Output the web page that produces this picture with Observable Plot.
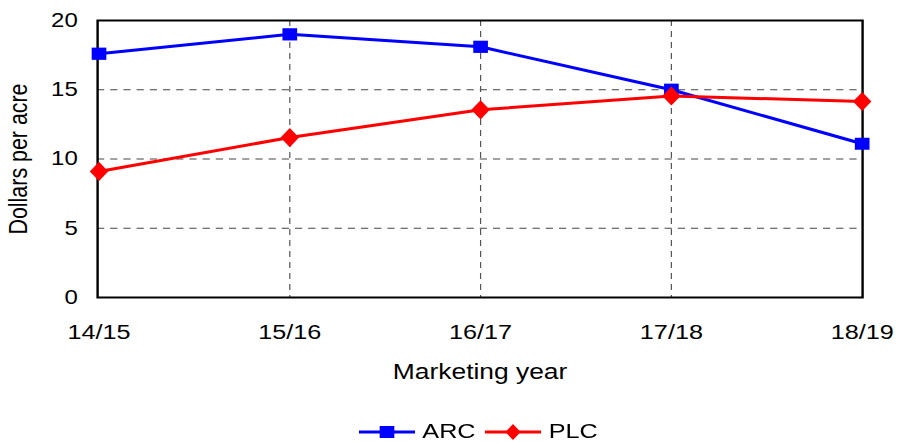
<!DOCTYPE html>
<html>
<head>
<meta charset="utf-8">
<script src="https://cdn.jsdelivr.net/npm/d3@7"></script>
<script src="https://cdn.jsdelivr.net/npm/@observablehq/plot@0.6"></script>
<style>
  html, body { margin: 0; padding: 0; background: #fff; }
  body { width: 899px; height: 442px; overflow: hidden; font-family: "Liberation Sans", Arial, sans-serif; }
  /* the whole figure is drawn slightly condensed, then widened to 899px */
  #wrap { width: 749.17px; transform: scaleX(1.2); transform-origin: 0 0; }
  #chart svg { display: block; }
  #legend { display: flex; justify-content: center; align-items: center; height: 42px; font-size: 21px; color: #000; padding-left: 48px; box-sizing: border-box; }
  #legend .item { display: flex; align-items: center; }
  #legend .item + .item { margin-left: 8px; }
  #legend svg { margin-right: 6px; }
</style>
</head>
<body>
<div id="wrap">
  <div id="chart"></div>
  <div id="legend"></div>
</div>
<script>
// Marketing years and per-acre payments by program
const years = ["14/15", "15/16", "16/17", "17/18", "18/19"];
const arc = [17.6, 19.0, 18.1, 15.0, 11.1];
const plc = [9.1, 11.55, 13.55, 14.55, 14.15];
const yTicks = [0, 5, 10, 15, 20];

// a rhombus a little taller than it is wide
const tallDiamond = {
  draw(context, size) {
    const r = Math.sqrt(size / Math.PI);
    const w = r * 0.96, h = r * 1.2;
    context.moveTo(0, -h);
    context.lineTo(w, 0);
    context.lineTo(0, h);
    context.lineTo(-w, 0);
    context.closePath();
  }
};

const series = [
  {name: "ARC", values: arc, color: "#0000ff", symbol: "square", r: 6.9},
  {name: "PLC", values: plc, color: "#ff0000", symbol: tallDiamond, r: 8}
];

const rows = series.flatMap(s => years.map((y, i) => ({year: y, value: s.values[i], name: s.name})));
const font = "Liberation Sans, Arial, sans-serif";

const marks = [
  // dashed gridlines
  Plot.ruleY([5, 10, 15], {stroke: "#444", strokeDasharray: "6,5", strokeWidth: 1}),
  Plot.ruleX(years.slice(1, -1), {stroke: "#555", strokeDasharray: "6,5", strokeWidth: 1}),
  Plot.frame({stroke: "#000", strokeWidth: 2}),
  Plot.axisY({ticks: yTicks, tickSize: 0, tickPadding: 16.5, fontSize: 20, label: null}),
  Plot.axisX({tickSize: 0, tickPadding: 27, fontSize: 21, label: null}),
  Plot.text(["Marketing year"], {frameAnchor: "bottom", lineAnchor: "middle", dy: 74, fontSize: 22}),
  Plot.text(["Dollars per acre"], {frameAnchor: "left", textAnchor: "middle", lineAnchor: "middle", dx: -65.4, rotate: -90, fontSize: 21.4}),
];
for (const s of series) {
  const data = rows.filter(d => d.name === s.name);
  marks.push(Plot.line(data, {x: "year", y: "value", stroke: s.color, strokeWidth: 3}));
  marks.push(Plot.dot(data, {x: "year", y: "value", fill: s.color, symbol: s.symbol, r: s.r, stroke: "none"}));
}

const chart = Plot.plot({
  width: 749.17,
  height: 410,
  marginLeft: 80.83,
  marginRight: 30.83,
  marginTop: 20,
  marginBottom: 113,
  style: {fontFamily: font, fontSize: "20px", color: "#000", background: "#fff"},
  x: {type: "point", domain: years, padding: 0},
  y: {domain: [0, 20]},
  marks
});
document.getElementById("chart").appendChild(chart);

// legend built from the same series definitions
const legend = document.getElementById("legend");
for (const s of series) {
  const item = document.createElement("div");
  item.className = "item";
  const sym = d3.create("svg").attr("width", 47).attr("height", 20);
  sym.append("line").attr("x1", 0).attr("x2", 47).attr("y1", 11).attr("y2", 11)
    .attr("stroke", s.color).attr("stroke-width", 3);
  const shape = s.symbol === "square" ? d3.symbolSquare : s.symbol;
  const rr = s.symbol === "square" ? 6.9 : 6.6;
  sym.append("path").attr("transform", "translate(23.5,11)")
    .attr("d", d3.symbol(shape, Math.PI * rr * rr)()).attr("fill", s.color);
  item.appendChild(sym.node());
  const label = document.createElement("span");
  label.textContent = s.name;
  item.appendChild(label);
  legend.appendChild(item);
}
</script>
</body>
</html>
